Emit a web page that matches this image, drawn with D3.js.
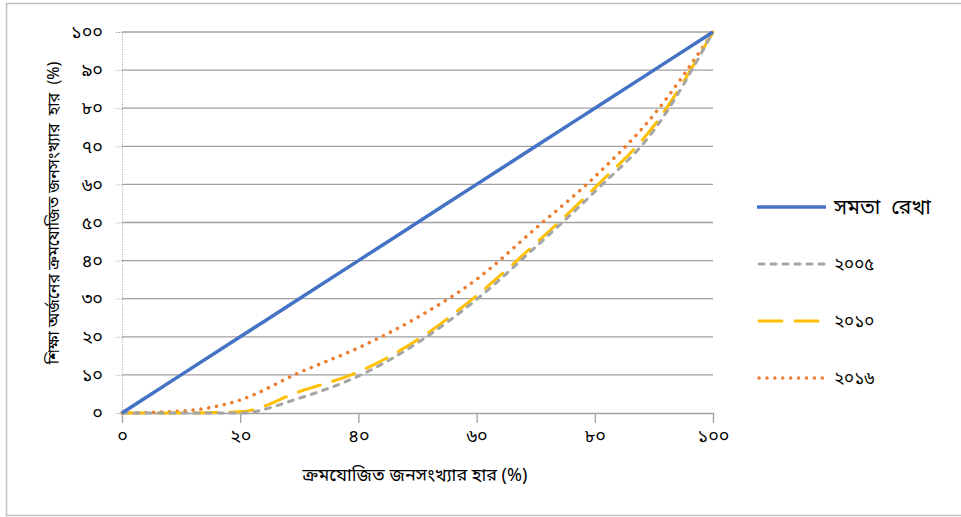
<!DOCTYPE html>
<html>
<head>
<meta charset="utf-8">
<script src="https://cdn.jsdelivr.net/npm/d3@7"></script>
<style>
  body { margin: 0; background: #fff; }
  svg text { font-family: "Noto Sans Bengali", "Vrinda", "Lohit Bengali", "FreeSerif", "Noto Sans", sans-serif; fill: #000; white-space: pre; }
</style>
</head>
<body>
<div id="chart"></div>
<script>
// cumulative population share (x) and Bengali tick labels
const xValues = [0, 10, 20, 30, 40, 50, 60, 70, 80, 90, 100];
const bnTicks = ["০", "১০", "২০", "৩০", "৪০", "৫০", "৬০", "৭০", "৮০", "৯০", "১০০"];

// series values
const equality = [0, 10, 20, 30, 40, 50, 60, 70, 80, 90, 100];
const y2005 = [0, 0, 0, 3.9, 9.7, 18.4, 29.8, 43.6, 58.1, 74.2, 100];
const y2010 = [0, 0, 0.3, 5.6, 10.8, 19.2, 30.8, 44.5, 59.1, 75.4, 100];
const y2016 = [0, 0.5, 3.4, 10.6, 17.1, 25.1, 35.1, 48.5, 62, 78.3, 100];

const seriesNames = ["সমতা  রেখা", "২০০৫", "২০১০", "২০১৬"];
const seriesValues = [equality, y2005, y2010, y2016];

const width = 961,
  height = 517;

const svg = d3.select("#chart")
  .append("svg")
  .attr("width", width)
  .attr("height", height);

// outer frame
svg.append("rect")
  .attr("x", 6.5)
  .attr("y", 3.5)
  .attr("width", 970)
  .attr("height", 512)
  .style("fill", "none")
  .style("stroke", "#bfbfbf")
  .style("stroke-width", 1.5);

const xScale = d3.scaleLinear().domain([0, 100]).range([122, 713]);
const yScale = d3.scaleLinear().domain([0, 100]).range([413, 32]);

// horizontal gridlines
svg.append("g")
  .selectAll("line")
  .data(xValues.slice(1))
  .enter()
  .append("line")
  .attr("x1", xScale(0))
  .attr("x2", xScale(100))
  .attr("y1", d => yScale(d))
  .attr("y2", d => yScale(d))
  .style("stroke", "#a0a0a0")
  .style("stroke-width", 1.3);

// y axis: dotted line with small left ticks
const yAxis = svg.append("g")
  .attr("transform", "translate(" + xScale(0) + ",0)")
  .call(d3.axisLeft(yScale).tickValues(xValues).tickSize(6).tickPadding(13)
    .tickFormat((d, i) => bnTicks[i]));
yAxis.select(".domain")
  .style("stroke", "#a6a6a6")
  .style("stroke-dasharray", "1,1.5");
yAxis.selectAll(".tick line")
  .style("stroke", "#a6a6a6")
  .style("stroke-dasharray", "1,1.5");
yAxis.selectAll("text").style("font-size", "18px");

// x axis: solid line with downward ticks
const xAxis = svg.append("g")
  .attr("transform", "translate(0," + yScale(0) + ")")
  .call(d3.axisBottom(xScale).tickValues([0, 20, 40, 60, 80, 100]).tickSize(10).tickSizeOuter(0).tickPadding(6)
    .tickFormat(d => bnTicks[d / 10]));
xAxis.select(".domain").style("stroke", "#a0a0a0").style("stroke-width", 1.3);
xAxis.selectAll(".tick line").style("stroke", "#a0a0a0").style("stroke-width", 1.3);
xAxis.selectAll("text").style("font-size", "18px");

// axis titles
svg.append("text")
  .attr("transform", "translate(59,213) rotate(-90)")
  .attr("text-anchor", "middle")
  .style("font-size", "16px")
  .text("শিক্ষা অর্জনের ক্রমযোজিত জনসংখ্যার  হার  (%)");

svg.append("text")
  .attr("x", 415)
  .attr("y", 481)
  .attr("text-anchor", "middle")
  .style("font-size", "18px")
  .text("ক্রমযোজিত জনসংখ্যার হার (%)");

const styles = [
  { color: "#4472c4", width: 3.5, dash: null, cap: "butt" },
  { color: "#a5a5a5", width: 3, dash: "5,7", cap: "round" },
  { color: "#ffc000", width: 3, dash: "23,13", cap: "round" },
  { color: "#ed7d31", width: 3.5, dash: "0.1,7.8", cap: "round" }
];

const line = d3.line()
  .x((d, i) => xScale(xValues[i]))
  .y(d => yScale(d))
  .curve(d3.curveMonotoneX);

// draw series, last first so blue sits on top like the reference
svg.append("g")
  .selectAll("path")
  .data(seriesValues.map((v, i) => ({ v, s: styles[i] })).reverse())
  .enter()
  .append("path")
  .attr("d", d => line(d.v))
  .style("fill", "none")
  .style("stroke", d => d.s.color)
  .style("stroke-width", d => d.s.width)
  .style("stroke-dasharray", d => d.s.dash)
  .style("stroke-linecap", d => d.s.cap);

// legend
const legendY = [207, 264, 321, 378];
const legend = svg.append("g")
  .selectAll("g")
  .data(seriesNames)
  .enter()
  .append("g")
  .attr("transform", (d, i) => "translate(0," + legendY[i] + ")");

legend.append("line")
  .attr("x1", (d, i) => i === 0 ? 757 : 759)
  .attr("x2", (d, i) => i === 2 ? 820 : 826)
  .attr("y1", 0)
  .attr("y2", 0)
  .style("stroke", (d, i) => styles[i].color)
  .style("stroke-width", (d, i) => styles[i].width)
  .style("stroke-dasharray", (d, i) => styles[i].dash)
  .style("stroke-linecap", (d, i) => styles[i].cap);

legend.append("text")
  .attr("x", 834)
  .attr("dy", "0.35em")
  .style("font-size", (d, i) => i === 0 ? "21px" : "17px")
  .text(d => d);
</script>
</body>
</html>
